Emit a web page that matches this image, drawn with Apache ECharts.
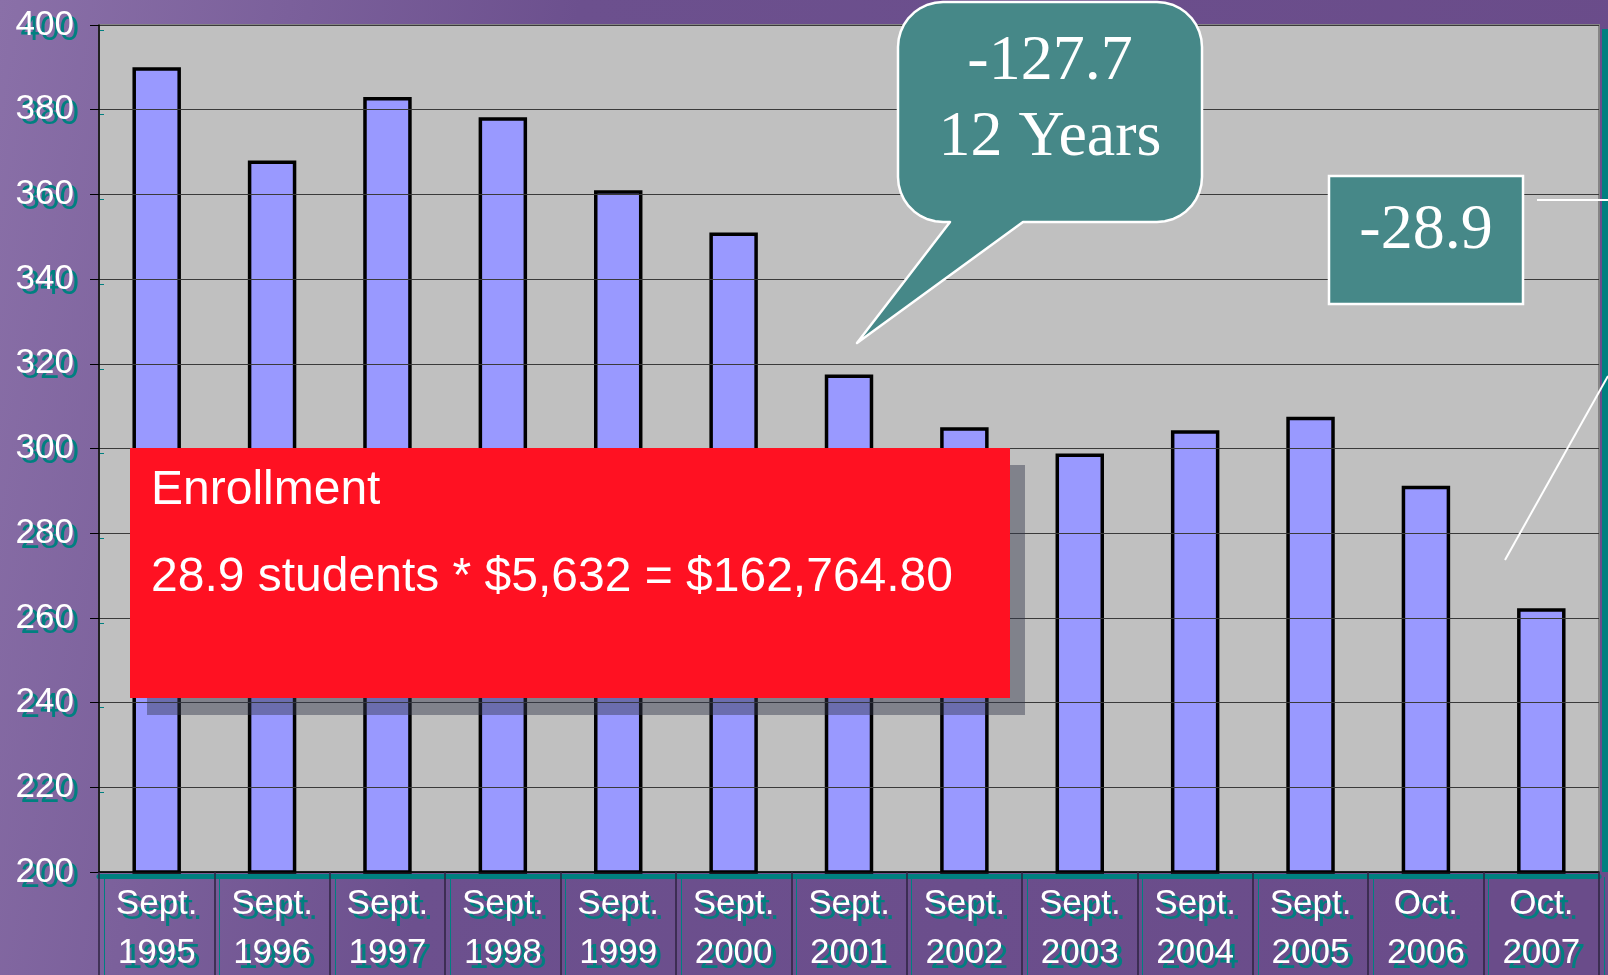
<!DOCTYPE html>
<html>
<head>
<meta charset="utf-8">
<title>Enrollment</title>
<script src="https://cdn.jsdelivr.net/npm/echarts@6/dist/echarts.min.js"></script>
<style>
  html, body { margin: 0; padding: 0; }
  #chart { width: 1608px; height: 975px; }
</style>
</head>
<body>
<div id="chart"></div>
<script>
  // categories (month + year on two lines)
  var months = ['Sept.', 'Sept.', 'Sept.', 'Sept.', 'Sept.', 'Sept.', 'Sept.',
                'Sept.', 'Sept.', 'Sept.', 'Sept.', 'Oct.', 'Oct.'];
  var years = ['1995', '1996', '1997', '1998', '1999', '2000', '2001',
               '2002', '2003', '2004', '2005', '2006', '2007'];
  // enrollment values
  var enrollment = [390, 368, 383, 378.2, 361, 351, 317.5, 305, 298.8, 304.3, 307.5, 291.2, 262.3];
  var yTicks = { min: 200, max: 400, step: 20 };

  var categories = months.map(function (m, i) { return m + '\n' + years[i]; });

  var white = '#ffffff';
  var teal = '#008080';
  var boxFill = '#468888';
  var sans = 'Liberation Sans, Arial';
  var serif = '"Liberation Serif", "Times New Roman"';

  // outline of the speech bubble: rounded box with a tail pointing down-left
  function bubblePoints(l, t, r, b, rad, tail) {
    var pts = [];
    function arc(cx, cy, a0, a1) {
      for (var a = a0; a <= a1 + 0.001; a += 10) {
        var th = a * Math.PI / 180;
        pts.push([cx + rad * Math.cos(th), cy + rad * Math.sin(th)]);
      }
    }
    arc(l + rad, t + rad, 180, 270);
    arc(r - rad, t + rad, 270, 360);
    arc(r - rad, b - rad, 0, 90);
    pts.push([tail[1], b], [tail[2], tail[3]], [tail[0], b]);
    arc(l + rad, b - rad, 90, 180);
    return pts;
  }

  var xLabel = { fontFamily: sans, fontSize: 35, lineHeight: 49, margin: 8, interval: 0 };
  var yLabel = { fontFamily: sans, fontSize: 35, margin: 25 };

  var chart = echarts.init(document.getElementById('chart'));
  chart.setOption({
    backgroundColor: {
      type: 'linear', x: 0, y: 0, x2: 1, y2: 0.3,
      colorStops: [
        { offset: 0, color: '#8a70a8' },
        { offset: 0.35, color: '#6c508e' },
        { offset: 1, color: '#6a4c8a' }
      ]
    },
    animation: false,
    grid: [
      {
        left: 99, right: 9, top: 25, bottom: 103,
        outerBoundsMode: 'none',
        containLabel: false,
        show: true,
        backgroundColor: '#c0c0c0',
        borderColor: '#858585',
        borderWidth: 2
      },
      // same plot shifted 5px right/down: carries the teal drop shadows of the labels
      { left: 104, right: 4, top: 30, bottom: 98, outerBoundsMode: 'none', containLabel: false, show: false }
    ],
    xAxis: [
      {
        type: 'category',
        data: categories,
        gridIndex: 0,
        z: 5,
        axisLine: { lineStyle: { color: '#000', width: 1.5 } },
        axisTick: { show: true, length: 103, lineStyle: { color: '#2e2340', width: 1.5 } },
        axisLabel: Object.assign({ color: white }, xLabel)
      },
      {
        type: 'category',
        data: categories,
        gridIndex: 0,
        position: 'bottom',
        offset: 4,
        z: 4,
        axisLine: { lineStyle: { color: teal, width: 5 } },
        axisTick: { show: false },
        axisLabel: { show: false }
      },
      {
        type: 'category',
        data: categories,
        gridIndex: 1,
        z: 1,
        axisLine: { show: false },
        axisTick: { show: true, length: 98, lineStyle: { color: teal, width: 1 } },
        axisLabel: Object.assign({ color: teal }, xLabel)
      }
    ],
    yAxis: [
      {
        type: 'value',
        gridIndex: 0,
        min: yTicks.min,
        max: yTicks.max,
        interval: yTicks.step,
        z: 5,
        axisLine: { show: true, lineStyle: { color: '#000', width: 1.5 } },
        axisTick: { show: true, length: 9, lineStyle: { color: '#000' } },
        splitLine: { lineStyle: { color: '#3a3a3a', width: 1 } },
        axisLabel: Object.assign({ color: white }, yLabel)
      },
      {
        type: 'value',
        gridIndex: 1,
        min: yTicks.min,
        max: yTicks.max,
        interval: yTicks.step,
        z: 1,
        axisLine: { show: false },
        axisTick: { show: true, length: 4, lineStyle: { color: teal } },
        splitLine: { show: false },
        axisLabel: Object.assign({ color: teal }, yLabel)
      }
    ],
    series: [{
      type: 'bar',
      data: enrollment,
      barWidth: '42%',
      xAxisIndex: 0,
      yAxisIndex: 0,
      itemStyle: { color: '#9999ff', borderColor: '#000', borderWidth: 3.5 },
      z: 2
    }],
    graphic: [
      // teal edge on the right of the plot
      { type: 'rect', shape: { x: 1602, y: 29, width: 6, height: 843 }, style: { fill: teal }, z: 50 },
      // red note with its drop shadow
      { type: 'rect', shape: { x: 147, y: 465, width: 878, height: 250 },
        style: { fill: 'rgba(50,55,76,0.45)' }, z: 60 },
      { type: 'rect', shape: { x: 130, y: 448, width: 880, height: 250 },
        style: { fill: '#ff1122' }, z: 61 },
      { type: 'text', x: 151, y: 491, z: 62,
        style: { text: 'Enrollment', fill: white, font: '48px ' + sans, verticalAlign: 'middle' } },
      { type: 'text', x: 151, y: 578, z: 62,
        style: { text: '28.9 students * $5,632 = $162,764.80', fill: white,
                 font: '48px ' + sans, verticalAlign: 'middle' } },
      // speech bubble
      { type: 'polygon', z: 70,
        shape: { points: bubblePoints(898, 2, 1202, 222, 45, [950, 1023, 857, 343]) },
        style: { fill: boxFill, stroke: white, lineWidth: 2.5, lineJoin: 'round' } },
      { type: 'text', x: 1050, y: 62, z: 71,
        style: { text: '-127.7', fill: white, font: '64px ' + serif,
                 align: 'center', verticalAlign: 'middle' } },
      { type: 'text', x: 1050, y: 138, z: 71,
        style: { text: '12 Years', fill: white, font: '64px ' + serif,
                 align: 'center', verticalAlign: 'middle' } },
      // -28.9 box and its pointer lines
      { type: 'rect', shape: { x: 1329, y: 176, width: 194, height: 128 }, z: 70,
        style: { fill: boxFill, stroke: white, lineWidth: 2.5 } },
      { type: 'text', x: 1426, y: 231, z: 71,
        style: { text: '-28.9', fill: white, font: '64px ' + serif,
                 align: 'center', verticalAlign: 'middle' } },
      { type: 'line', shape: { x1: 1537, y1: 200, x2: 1608, y2: 200 }, z: 70,
        style: { stroke: white, lineWidth: 2 } },
      { type: 'line', shape: { x1: 1505, y1: 560, x2: 1608, y2: 376 }, z: 70,
        style: { stroke: white, lineWidth: 2 } }
    ]
  });
</script>
</body>
</html>
